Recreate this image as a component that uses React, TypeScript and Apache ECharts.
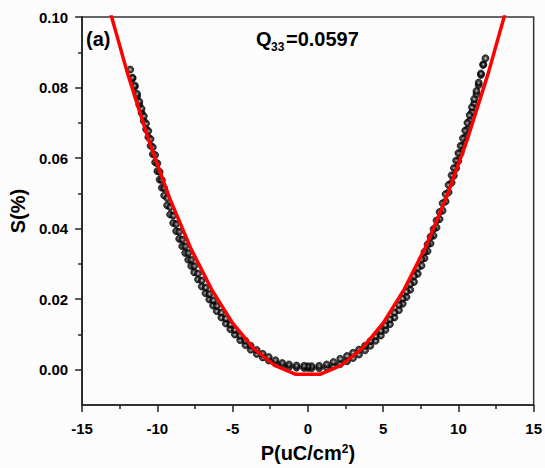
import React, { useEffect, useRef } from "react";
import * as echarts from "echarts";

const FONT = "'Liberation Sans', Arial, sans-serif";

// |P| sampling grid of the measured loop (uC/cm^2)
const pGrid = [0.25, 0.75, 1.25, 1.7, 2.15, 2.6, 3.0, 3.4, 3.8, 4.15, 4.5, 4.85, 5.15, 5.45, 5.75, 6.05, 6.3, 6.55, 6.8, 7.05, 7.3, 7.55, 7.75, 7.95, 8.15, 8.35, 8.55, 8.75, 8.95, 9.15, 9.35, 9.55, 9.7, 9.85, 10.0, 10.15, 10.3, 10.45, 10.6, 10.75, 10.9, 11.05, 11.2, 11.35, 11.5, 11.65, 11.8];

// measured strain S(%), outer row, negative P side (at P = -pGrid)
const sLeftOuter = [0.0005, 0.0006, 0.0008, 0.0011, 0.0018, 0.0026, 0.0035, 0.0045, 0.0057, 0.0070, 0.0084, 0.0100, 0.0115, 0.0131, 0.0148, 0.0166, 0.0182, 0.0199, 0.0217, 0.0236, 0.0256, 0.0276, 0.0294, 0.0312, 0.0331, 0.0350, 0.0371, 0.0393, 0.0416, 0.0440, 0.0466, 0.0494, 0.0516, 0.0539, 0.0563, 0.0588, 0.0611, 0.0635, 0.0659, 0.0682, 0.0705, 0.0728, 0.0751, 0.0775, 0.0802, 0.0826, 0.0851];
// measured strain, outer row, positive P side
const sRightOuter = [0.0004, 0.0004, 0.0006, 0.0010, 0.0016, 0.0024, 0.0033, 0.0043, 0.0055, 0.0068, 0.0082, 0.0097, 0.0113, 0.0129, 0.0148, 0.0169, 0.0187, 0.0206, 0.0227, 0.0249, 0.0272, 0.0295, 0.0316, 0.0336, 0.0358, 0.0380, 0.0403, 0.0427, 0.0451, 0.0477, 0.0503, 0.0530, 0.0550, 0.0571, 0.0592, 0.0614, 0.0636, 0.0659, 0.0682, 0.0706, 0.0730, 0.0755, 0.0781, 0.0807, 0.0836, 0.0864, 0.0883];
// measured strain, inner (return) row, negative P side
const sLeftInner = [0.0011, 0.0012, 0.0015, 0.0019, 0.0027, 0.0036, 0.0045, 0.0056, 0.0068, 0.0082, 0.0096, 0.0113, 0.0128, 0.0145, 0.0162, 0.0181, 0.0197, 0.0215, 0.0233, 0.0253, 0.0273, 0.0294, 0.0312, 0.0331, 0.0350, 0.0369, 0.0391, 0.0413, 0.0437, 0.0461, 0.0487, 0.0515, 0.0538, 0.0561, 0.0585, 0.0609, 0.0631, 0.0654, 0.0677, 0.0698, 0.0719, 0.0740, 0.0760, 0.0782, 0.0806, 0.0828];
// measured strain, inner (return) row, positive P side
const sRightInner = [0.0010, 0.0011, 0.0015, 0.0022, 0.0031, 0.0039, 0.0048, 0.0057, 0.0068, 0.0081, 0.0095, 0.0110, 0.0126, 0.0143, 0.0162, 0.0184, 0.0202, 0.0222, 0.0243, 0.0266, 0.0289, 0.0313, 0.0334, 0.0355, 0.0377, 0.0399, 0.0423, 0.0447, 0.0472, 0.0498, 0.0524, 0.0551, 0.0572, 0.0593, 0.0614, 0.0635, 0.0656, 0.0678, 0.0700, 0.0722, 0.0744, 0.0767, 0.0790, 0.0814, 0.0840, 0.0866];
const sCenter = [0.0005, 0.0010];

// quadratic fit (red)
const fitP = [-13.4, -12.0, -10.6, -9.2, -7.8, -6.4, -5.0, -3.6, -2.2, -0.8, 0.8, 2.2, 3.6, 5.0, 6.4, 7.8, 9.2, 10.6, 12.0, 13.4];
const fitS = [0.1055, 0.0843, 0.0654, 0.0488, 0.0346, 0.0228, 0.0132, 0.0060, 0.0012, -0.0013, -0.0013, 0.0012, 0.0060, 0.0132, 0.0228, 0.0346, 0.0488, 0.0654, 0.0843, 0.1055];

const yMajor = [0, 0.02, 0.04, 0.06, 0.08, 0.1];
const yMinor = [0.01, 0.03, 0.05, 0.07, 0.09];

export default function App() {
  const ref = useRef<HTMLDivElement>(null);
  useEffect(() => {
    if (!ref.current) return;
    const chart = echarts.init(ref.current, null, { renderer: "svg" });

    const outer: number[][] = [];
    for (let i = pGrid.length - 1; i >= 0; i--) outer.push([-pGrid[i], sLeftOuter[i]]);
    outer.push([0, sCenter[0]]);
    for (let i = 0; i < pGrid.length; i++) outer.push([pGrid[i], sRightOuter[i]]);
    const inner: number[][] = [];
    for (let i = sRightInner.length - 1; i >= 0; i--) inner.push([pGrid[i], sRightInner[i]]);
    inner.push([0, sCenter[1]]);
    for (let i = 0; i < sLeftInner.length; i++) inner.push([-pGrid[i], sLeftInner[i]]);
    const fit = fitP.map((p, i) => [p, fitS[i]]);

    const dotStyle = {
      color: {
        type: "radial", x: 0.5, y: 0.5, r: 0.5,
        colorStops: [
          { offset: 0, color: "#d8d8d8" },
          { offset: 0.25, color: "#777" },
          { offset: 0.55, color: "#141414" },
          { offset: 1, color: "#000" },
        ],
      },
      borderColor: "#000",
      borderWidth: 0.8,
    };
    const labelStyle = { fontFamily: FONT, fontSize: 15, fontWeight: "bold", color: "#000" };
    const axisLine = { show: true, onZero: false, lineStyle: { color: "#222", width: 1.6 } };
    const txt = { fontFamily: FONT, fontWeight: "bold", fill: "#000" };

    chart.setOption({
      animation: false,
      backgroundColor: "#fcfcfc",
      grid: { left: 82, right: 9, top: 17, bottom: 59, show: true, borderColor: "#333", borderWidth: 1.5, backgroundColor: "transparent" },
      xAxis: {
        type: "value", min: -15, max: 15, interval: 5,
        axisLine, splitLine: { show: false },
        axisTick: { show: true, inside: false, length: 7, lineStyle: { color: "#222", width: 1.5 } },
        minorTick: { show: true, splitNumber: 2, length: 4, lineStyle: { color: "#222", width: 1.5 } },
        axisLabel: { ...labelStyle, margin: 16 },
        name: "P(uC/cm{sup|2})", nameLocation: "middle", nameGap: 38,
        nameTextStyle: {
          fontFamily: FONT, fontSize: 20, fontWeight: "bold", color: "#000",
          rich: { sup: { fontFamily: FONT, fontSize: 12, fontWeight: "bold", color: "#000", verticalAlign: "top" } },
        },
      },
      yAxis: [
        {
          type: "value", min: -0.01, max: 0.1,
          axisLine, splitLine: { show: false },
          axisTick: { show: true, inside: false, length: 7, customValues: yMajor, lineStyle: { color: "#222", width: 1.5 } },
          axisLabel: { ...labelStyle, margin: 14, customValues: yMajor, formatter: (v: number) => v.toFixed(2) },
          name: "S(%)", nameLocation: "middle", nameRotate: 90, nameGap: 48,
          nameTextStyle: { fontFamily: FONT, fontSize: 20, fontWeight: "bold", color: "#000" },
        },
        {
          type: "value", min: -0.01, max: 0.1, position: "left",
          axisLine: { show: false, onZero: false }, splitLine: { show: false }, axisLabel: { show: false },
          axisTick: { show: true, inside: false, length: 4, customValues: yMinor, lineStyle: { color: "#222", width: 1.5 } },
        },
      ],
      graphic: [
        { type: "text", x: 86, y: 29, style: { ...txt, text: "(a)", fontSize: 20 } },
        { type: "text", x: 256, y: 29, style: { ...txt, text: "Q", fontSize: 20 } },
        { type: "text", x: 271, y: 41, style: { ...txt, text: "33", fontSize: 12 } },
        { type: "text", x: 286, y: 29, style: { ...txt, text: "=0.0597", fontSize: 20 } },
      ],
      series: [
        { type: "scatter", data: outer, symbol: "circle", symbolSize: 7, itemStyle: dotStyle },
        { type: "scatter", data: inner, symbol: "circle", symbolSize: 7, itemStyle: dotStyle },
        { type: "line", data: fit, symbol: "none", smooth: false, clip: true, lineStyle: { color: "#ff0000", width: 3.5 }, z: 5 },
      ],
    });
    return () => chart.dispose();
  }, []);
  return <div ref={ref} style={{ position: "absolute", left: 0, top: 0, width: 545, height: 468 }} />;
}
